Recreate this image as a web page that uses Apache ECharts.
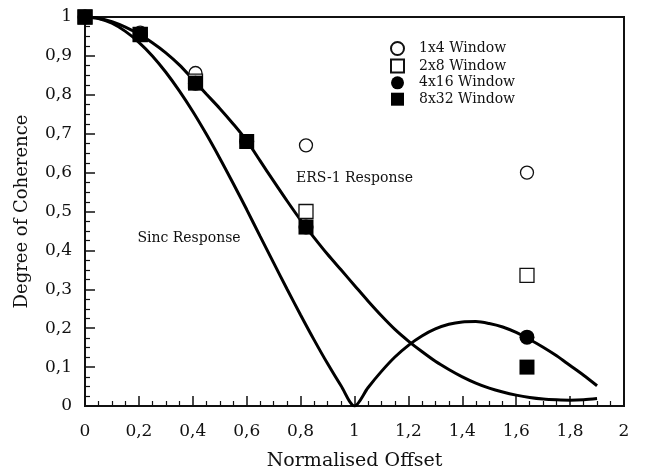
<!DOCTYPE html>
<html>
<head>
<meta charset="utf-8">
<script src="https://cdn.jsdelivr.net/npm/echarts@6/dist/echarts.min.js"></script>
<style>
html,body{margin:0;padding:0;background:#fff;}
#chart{width:646px;height:474px;}
</style>
</head>
<body>
<div id="chart"></div>
<script>
// Sinc response curve
var sincX = [0, 0.05, 0.1, 0.15, 0.2, 0.25, 0.3, 0.35, 0.4, 0.45, 0.5, 0.55, 0.6, 0.65, 0.7, 0.75, 0.8, 0.85, 0.9, 0.95, 1.0, 1.05, 1.1, 1.15, 1.2, 1.25, 1.3, 1.35, 1.4, 1.45, 1.5, 1.55, 1.6, 1.65, 1.7, 1.75, 1.8, 1.85, 1.9];
var sincY = [1, 0.996, 0.984, 0.963, 0.935, 0.900, 0.858, 0.810, 0.757, 0.699, 0.637, 0.572, 0.505, 0.436, 0.368, 0.300, 0.234, 0.170, 0.109, 0.052, 0, 0.047, 0.089, 0.126, 0.156, 0.180, 0.198, 0.210, 0.216, 0.217, 0.212, 0.203, 0.189, 0.171, 0.151, 0.129, 0.104, 0.079, 0.052];
// ERS-1 response curve
var ersX = [0, 0.05, 0.1, 0.15, 0.2, 0.25, 0.3, 0.35, 0.4, 0.45, 0.5, 0.55, 0.6, 0.65, 0.7, 0.75, 0.8, 0.85, 0.9, 0.95, 1.0, 1.05, 1.1, 1.15, 1.2, 1.25, 1.3, 1.35, 1.4, 1.45, 1.5, 1.55, 1.6, 1.65, 1.7, 1.75, 1.8, 1.85, 1.9];
var ersY = [1, 0.997, 0.988, 0.974, 0.956, 0.934, 0.908, 0.877, 0.840, 0.802, 0.765, 0.725, 0.682, 0.630, 0.578, 0.527, 0.478, 0.433, 0.390, 0.350, 0.310, 0.270, 0.232, 0.197, 0.167, 0.140, 0.115, 0.094, 0.075, 0.059, 0.046, 0.036, 0.028, 0.022, 0.018, 0.016, 0.015, 0.016, 0.019];
// Measured points per window
var w1x4X = [0, 0.205, 0.41, 0.82, 1.64];
var w1x4Y = [1, 0.96, 0.856, 0.67, 0.60];
var w2x8X = [0, 0.205, 0.41, 0.82, 1.64];
var w2x8Y = [1, 0.955, 0.835, 0.50, 0.336];
var w4x16X = [0, 0.205, 0.41, 0.6, 0.82, 1.64];
var w4x16Y = [1, 0.955, 0.83, 0.68, 0.46, 0.177];
var w8x32X = [0, 0.205, 0.41, 0.6, 0.82, 1.64];
var w8x32Y = [1, 0.955, 0.83, 0.68, 0.46, 0.10];
var seriesNames = ['1x4 Window', '2x8 Window', '4x16 Window', '8x32 Window'];
var xTicks = {0:'0',0.2:'0,2',0.4:'0,4',0.6:'0,6',0.8:'0,8',1:'1',1.2:'1,2',1.4:'1,4',1.6:'1,6',1.8:'1,8',2:'2'};

function zip(a, b) { return a.map(function (v, i) { return [v, b[i]]; }); }
function fmt(v) {
  var s = (Math.round(v * 10) / 10).toString();
  return s.replace('.', ',');
}
var FONT = 'DejaVu Serif';
var chart = echarts.init(document.getElementById('chart'), null, {renderer: 'canvas'});
var option = {
  backgroundColor: '#fff',
  animation: false,
  textStyle: {fontFamily: FONT, color: '#111'},
  grid: {left: 85, right: 22, top: 17, bottom: 68, show: true, borderColor: '#111', borderWidth: 2, outerBoundsMode: 'none'},
  legend: {
    orient: 'vertical', left: 385, top: 36, itemWidth: 13, itemHeight: 13, itemGap: 2.4,
    textStyle: {fontFamily: FONT, fontSize: 14, color: '#111', padding: [0, 0, 0, 10]},
    data: [
      {name: seriesNames[0], icon: 'circle'},
      {name: seriesNames[1], icon: 'rect'},
      {name: seriesNames[2], icon: 'circle'},
      {name: seriesNames[3], icon: 'rect'}
    ]
  },
  xAxis: {
    type: 'value', min: 0, max: 2, interval: 0.2,
    name: 'Normalised Offset', nameLocation: 'middle', nameGap: 46,
    nameTextStyle: {fontFamily: FONT, fontSize: 19, color: '#111'},
    axisLine: {lineStyle: {color: '#111', width: 2}},
    axisTick: {inside: true, length: 10, lineStyle: {color: '#111', width: 1.5}},
    minorTick: {show: true, splitNumber: 4, length: 5, lineStyle: {color: '#111', width: 1.2}},
    splitLine: {show: false},
    axisLabel: {fontFamily: FONT, fontSize: 17, color: '#111', margin: 17,
      formatter: function (v) { var k = Math.round(v * 10) / 10; return xTicks[k] !== undefined ? xTicks[k] : fmt(v); }}
  },
  yAxis: {
    type: 'value', min: 0, max: 1, interval: 0.1,
    name: 'Degree of Coherence', nameLocation: 'middle', nameGap: 54,
    nameTextStyle: {fontFamily: FONT, fontSize: 18, color: '#111'},
    axisLine: {show: true, lineStyle: {color: '#111', width: 2}},
    axisTick: {show: true, inside: true, length: 10, lineStyle: {color: '#111', width: 1.5}},
    minorTick: {show: true, splitNumber: 4, length: 5, lineStyle: {color: '#111', width: 1.2}},
    splitLine: {show: false},
    axisLabel: {fontFamily: FONT, fontSize: 17, color: '#111', margin: 13, formatter: fmt}
  },
  series: [
    {
      name: 'Sinc', type: 'line', data: zip(sincX, sincY), smooth: 0.3, showSymbol: false,
      lineStyle: {color: '#000', width: 3}, z: 2, silent: true,
      markPoint: {
        symbol: 'circle', symbolSize: 0, silent: true,
        label: {show: true, position: 'inside', formatter: '{b}', fontFamily: FONT, fontSize: 14, color: '#111'},
        data: [{name: 'Sinc Response', coord: [0.386, 0.43]}]
      }
    },
    {
      name: 'ERS', type: 'line', data: zip(ersX, ersY), smooth: 0.3, showSymbol: false,
      lineStyle: {color: '#000', width: 3}, z: 2, silent: true,
      markPoint: {
        symbol: 'circle', symbolSize: 0, silent: true,
        label: {show: true, position: 'inside', formatter: '{b}', fontFamily: FONT, fontSize: 14, color: '#111'},
        data: [{name: 'ERS-1 Response', coord: [1.0, 0.585]}]
      }
    },
    {name: seriesNames[0], type: 'scatter', data: zip(w1x4X, w1x4Y), symbol: 'circle', symbolSize: 13,
      itemStyle: {color: '#fff', borderColor: '#111', borderWidth: 1.3, opacity: 1}, z: 3},
    {name: seriesNames[1], type: 'scatter', data: zip(w2x8X, w2x8Y), symbol: 'rect', symbolSize: 14,
      itemStyle: {color: '#fff', borderColor: '#111', borderWidth: 1.3, opacity: 1}, z: 4},
    {name: seriesNames[2], type: 'scatter', data: zip(w4x16X, w4x16Y), symbol: 'circle', symbolSize: 15,
      itemStyle: {color: '#000', opacity: 1}, z: 5},
    {name: seriesNames[3], type: 'scatter', data: zip(w8x32X, w8x32Y), symbol: 'rect', symbolSize: 15,
      itemStyle: {color: '#000', opacity: 1}, z: 6}
  ]
};
chart.setOption(option);
</script>
</body>
</html>
